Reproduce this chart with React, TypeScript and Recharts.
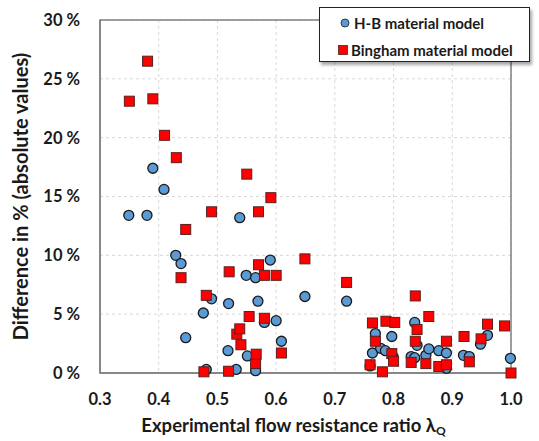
import React from 'react'
import { ScatterChart, Scatter, XAxis, YAxis, CartesianGrid, ReferenceArea } from 'recharts'

// H-B material model
const hbLambda = [0.349, 0.38, 0.39, 0.409, 0.429, 0.438, 0.446, 0.476, 0.481, 0.49, 0.518, 0.519, 0.532, 0.538, 0.549, 0.551, 0.565, 0.565, 0.569, 0.58, 0.59, 0.6, 0.609, 0.649, 0.72, 0.76, 0.764, 0.769, 0.778, 0.786, 0.797, 0.799, 0.83, 0.836, 0.836, 0.84, 0.855, 0.86, 0.877, 0.89, 0.89, 0.919, 0.929, 0.948, 0.96, 0.999]
const hbDiff = [13.4, 13.4, 17.4, 15.6, 10.0, 9.3, 3.0, 5.1, 0.3, 6.3, 1.9, 5.9, 0.3, 13.2, 8.3, 1.45, 8.1, 0.2, 6.1, 4.3, 9.6, 4.45, 2.7, 6.5, 6.1, 0.6, 1.7, 3.35, 2.1, 1.9, 3.1, 1.4, 1.4, 1.3, 4.3, 2.35, 1.5, 2.05, 1.9, 1.7, 0.4, 1.5, 1.4, 2.45, 3.2, 1.25]

// Bingham material model
const binghamLambda = [0.35, 0.381, 0.39, 0.41, 0.43, 0.438, 0.446, 0.477, 0.481, 0.49, 0.519, 0.52, 0.533, 0.538, 0.54, 0.55, 0.554, 0.565, 0.566, 0.57, 0.57, 0.58, 0.58, 0.591, 0.6, 0.609, 0.649, 0.72, 0.76, 0.764, 0.769, 0.781, 0.787, 0.797, 0.8, 0.802, 0.83, 0.837, 0.837, 0.84, 0.855, 0.86, 0.877, 0.89, 0.89, 0.92, 0.929, 0.949, 0.96, 0.989, 1.0]
const binghamDiff = [23.1, 26.5, 23.3, 20.2, 18.3, 8.1, 12.2, 0.1, 6.6, 13.7, 0.15, 8.6, 3.3, 3.75, 2.4, 16.9, 4.8, 0.8, 1.6, 13.7, 9.2, 4.65, 8.3, 14.9, 8.3, 1.7, 9.7, 7.7, 0.7, 4.25, 2.7, 0.1, 4.4, 1.65, 1.0, 4.3, 0.9, 6.55, 2.7, 3.7, 0.8, 4.8, 0.55, 2.7, 0.7, 3.1, 0.95, 2.9, 4.15, 4.0, 0.0]

const xTicks = [0.3, 0.4, 0.5, 0.6, 0.7, 0.8, 0.9, 1.0]
const yTicks = [0, 5, 10, 15, 20, 25, 30]

const hbData = hbLambda.map((x, i) => ({ x, y: hbDiff[i] }))
const binghamData = binghamLambda.map((x, i) => ({ x, y: binghamDiff[i] }))

const font = 'Lato, "Open Sans", sans-serif'
const blue = '#5b9bd5'
const red = '#ff0000'
const ink = '#1a1a1a'

const Circle = (props: any) => (
  <circle cx={props.cx} cy={props.cy} r={5} fill={blue} stroke={ink} strokeWidth={1.3} />
)

const Square = (props: any) => (
  <rect x={props.cx - 5} y={props.cy - 5} width={10} height={10} fill={red} stroke="#5a2020" strokeWidth={1} />
)

// x title with subscript Q
const XTitle = (props: any) => {
  const { x, y, width } = props.viewBox
  return (
    <text x={x + width / 2 - 12} y={y + 59} textAnchor="middle" fill={ink} fontFamily={font} fontWeight={700} fontSize={18.5}>
      Experimental flow resistance ratio λ
      <tspan fontSize={12} dy={3}>Q</tspan>
    </text>
  )
}

const LegendBox = () => (
  <div style={{
    position: 'absolute',
    left: 319,
    top: 7,
    background: '#fff',
    border: '1px solid #222',
    boxShadow: '2px 3px 3px rgba(0,0,0,0.35)',
    width: 211,
    height: 55,
    boxSizing: 'border-box',
    padding: '6px 0 0 20px',
    fontFamily: font,
    fontWeight: 700,
    fontSize: 15,
    color: ink,
  }}>
    <div style={{ display: 'flex', alignItems: 'center', height: 18 }}>
      <svg width={10} height={10} style={{ marginRight: 4 }}>
        <circle cx={5} cy={5} r={4} fill={blue} stroke={ink} strokeWidth={0.8} />
      </svg>
      H-B material model
    </div>
    <div style={{ display: 'flex', alignItems: 'center', height: 18, marginTop: 9, marginLeft: -2 }}>
      <svg width={10} height={10} style={{ marginRight: 3 }}>
        <rect x={0.5} y={0.5} width={9} height={9} fill={red} stroke="#5a2020" strokeWidth={0.8} />
      </svg>
      Bingham material model
    </div>
  </div>
)

export default function App() {
  return (
    <div style={{ position: 'absolute', left: 0, top: 0, width: 539, height: 441, background: '#fff' }}>
      <ScatterChart width={539} height={441} margin={{ top: 20, right: 28, bottom: 38, left: 0 }}>
        <CartesianGrid stroke="#d9d9d9" strokeDasharray="3 3" />
        <XAxis
          type="number"
          dataKey="x"
          domain={[0.3, 1.0]}
          ticks={xTicks}
          tickFormatter={(v: number) => v.toFixed(1)}
          height={30}
          axisLine={{ stroke: '#808080', strokeWidth: 1.5 }}
          tickLine={false}
          tickMargin={14}
          tick={{ fill: ink, fontSize: 16.5, fontWeight: 700, fontFamily: font }}
          label={<XTitle />}
        />
        <YAxis
          type="number"
          dataKey="y"
          domain={[0, 30]}
          ticks={yTicks}
          tickFormatter={(v: number) => `${v} %`}
          width={100}
          axisLine={{ stroke: '#808080', strokeWidth: 1.5 }}
          tickLine={false}
          tickMargin={14}
          tick={{ fill: ink, fontSize: 16.5, fontWeight: 700, fontFamily: font }}
          label={{
            value: 'Difference in % (absolute values)',
            angle: -90,
            position: 'insideLeft',
            offset: 21,
            style: { textAnchor: 'middle' },
            fill: ink,
            fontSize: 20,
            fontWeight: 700,
            fontFamily: font,
          }}
        />
        <ReferenceArea x1={0.3} x2={1.0} y1={0} y2={30} fill="none" stroke="#808080" strokeWidth={1.5} />
        <Scatter name="H-B material model" data={hbData} shape={Circle} isAnimationActive={false} />
        <Scatter name="Bingham material model" data={binghamData} shape={Square} isAnimationActive={false} />
      </ScatterChart>
      <LegendBox />
    </div>
  )
}
